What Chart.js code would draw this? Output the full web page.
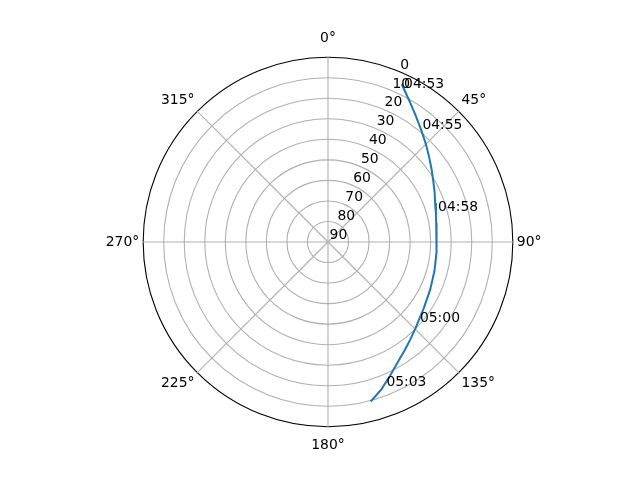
<!DOCTYPE html>
<html lang="en">

<head>
    <meta charset="UTF-8">
    <title>Pass skyplot</title>
    <script src="https://cdn.jsdelivr.net/npm/chart.js"></script>
    <style>
        body { margin: 0; background: #fff; }
    </style>
</head>

<body>
    <canvas id="skyplot" width="640" height="480"></canvas>

    <script>
        // azimuth (deg, clockwise from north) and elevation (deg) of the pass
        const passAz = [25, 30, 35, 40, 45, 50, 55, 60, 65, 70, 75, 80, 85, 90, 95,
            100, 105, 110, 115, 120, 125, 130, 135, 140, 145, 150, 155, 160, 165];
        const passEl = [5.1, 10.7, 15.3, 19.2, 22.6, 25.7, 28.4, 30.8, 32.7, 34.5, 35.6, 36.5, 36.9, 37.1, 37.0,
            36.8, 36.3, 35.9, 35.1, 34.4, 33.2, 31.9, 30.0, 27.8, 25.2, 22.3, 18.3, 13.8, 9.6];

        // time marks along the pass
        const timeLabels = ['04:53', '04:55', '04:58', '05:00', '05:03'];
        const timeAz = [26.3, 39.8, 74.2, 131.2, 157.9];
        const timeEl = [6.4, 18.2, 34.3, 30.5, 14.4];

        // elevation rings 0..90 (0 = horizon at the rim)
        const elevTicks = [0, 10, 20, 30, 40, 50, 60, 70, 80, 90];
        const azStep = 5;
        const rLabelAngle = 22.5;

        // one category every 5 degrees of azimuth
        const azCategories = [];
        for (let a = 0; a < 360; a += azStep) azCategories.push(a);

        // radius = 90 - elevation so the zenith sits in the centre
        const rData = azCategories.map(a => {
            const i = passAz.indexOf(a);
            return i >= 0 ? 90 - passEl[i] : null;
        });

        const font = { family: 'DejaVu Sans', size: 13.9 };

        const skyLabels = {
            id: 'skyLabels',
            beforeDatasetDraw(chart, args) {
                // radar always closes its outline, a pass track must stay open
                const line = args.meta.dataset;
                line._loop = false;
                delete line._segments;
                delete line._path;
            },
            afterDraw(chart) {
                const scale = chart.scales.r;
                const ctx = chart.ctx;
                ctx.save();
                ctx.font = font.size + 'px "' + font.family + '"';
                ctx.fillStyle = '#000';
                ctx.textAlign = 'left';
                ctx.textBaseline = 'alphabetic';

                const ra = rLabelAngle * Math.PI / 180;
                scale.ticks.forEach(t => {
                    const d = scale.getDistanceFromCenterForValue(t.value);
                    ctx.fillText(t.label, scale.xCenter + d * Math.sin(ra) + 1.6, scale.yCenter - d * Math.cos(ra) - 2.7);
                });

                timeLabels.forEach((txt, i) => {
                    const a = timeAz[i] * Math.PI / 180;
                    const d = scale.getDistanceFromCenterForValue(90 - timeEl[i]);
                    ctx.fillText(txt, scale.xCenter + d * Math.sin(a), scale.yCenter - d * Math.cos(a));
                });
                ctx.restore();
            }
        };

        new Chart(document.getElementById('skyplot'), {
            type: 'radar',
            data: {
                labels: azCategories,
                datasets: [{
                    data: rData,
                    borderColor: '#1f77b4',
                    borderWidth: 2,
                    pointRadius: 0,
                    pointHoverRadius: 0,
                    fill: false,
                    spanGaps: false,
                    tension: 0
                }]
            },
            options: {
                responsive: false,
                animation: false,
                layout: { padding: { left: 16, right: 0, top: 31, bottom: 25 } },
                plugins: {
                    legend: { display: false },
                    tooltip: { enabled: false }
                },
                scales: {
                    r: {
                        min: 0,
                        max: 90,
                        startAngle: 0,
                        afterBuildTicks: scale => {
                            scale.ticks = elevTicks.map(e => ({ value: 90 - e })).reverse();
                        },
                        ticks: {
                            display: false,
                            callback: v => String(90 - v)
                        },
                        grid: {
                            circular: true,
                            color: ctx => ctx.tick.value === 90 ? '#000000' : '#b0b0b0',
                            lineWidth: 1.1
                        },
                        angleLines: {
                            color: '#b0b0b0',
                            lineWidth: ctx => ctx.index % 9 === 0 ? 1.1 : 0
                        },
                        pointLabels: {
                            color: '#000',
                            font: font,
                            padding: ctx => (ctx.index % 18 === 0 && ctx.index % 36 !== 0) ? 4 : (ctx.index % 36 === 0 ? 10.5 : 4),
                            callback: (label, i) => i % 9 === 0 ? label + '°' : ''
                        }
                    }
                }
            },
            plugins: [skyLabels]
        });
    </script>

</body>

</html>
